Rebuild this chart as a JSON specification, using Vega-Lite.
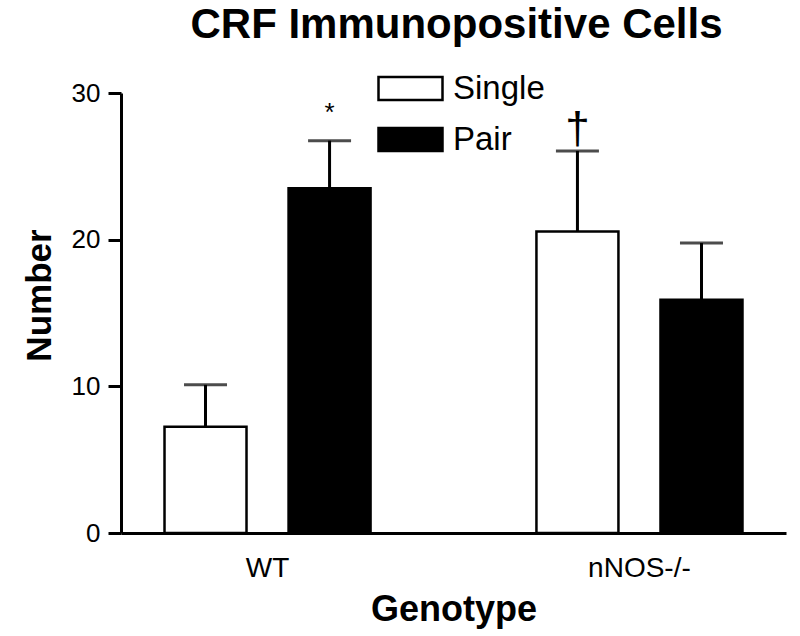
{
  "$schema": "https://vega.github.io/schema/vega-lite/v6.json",
  "autosize": "none",
  "width": 665,
  "height": 440,
  "padding": {"left": 121, "top": 93, "right": 14, "bottom": 103},
  "background": "white",
  "config": {
    "font": "Liberation Sans",
    "view": {"stroke": null},
    "axis": {"grid": false, "domainColor": "black", "domainWidth": 3, "tickColor": "black", "tickWidth": 3, "labelColor": "black", "titleColor": "black", "labelFont": "Liberation Sans", "titleFont": "Liberation Sans"}
  },
  "title": {"text": "CRF Immunopositive Cells", "fontSize": 42, "fontWeight": "bold", "font": "Liberation Sans", "color": "black", "anchor": "middle", "baseline": "alphabetic", "offset": -25, "dx": 3},
  "data": {
    "values": [
      {"Genotype": "WT", "Group": "Single", "Number": 7.25, "upper": 10.1, "sig": ""},
      {"Genotype": "WT", "Group": "Pair", "Number": 23.5, "upper": 26.75, "sig": "*"},
      {"Genotype": "nNOS-/-", "Group": "Single", "Number": 20.55, "upper": 26.05, "sig": "†"},
      {"Genotype": "nNOS-/-", "Group": "Pair", "Number": 15.9, "upper": 19.77, "sig": ""}
    ]
  },
  "encoding": {
    "x": {"field": "Genotype", "type": "nominal", "sort": ["WT", "nNOS-/-"],
      "scale": {"paddingInner": 0.446, "paddingOuter": 0.117},
      "axis": {"title": "Genotype", "labelAngle": 0, "ticks": false, "tickSize": 0, "labelFontSize": 28, "labelBaseline": "alphabetic", "labelPadding": 43, "titleFontSize": 36, "titleFontWeight": "bold", "titleBaseline": "alphabetic", "titleY": 87}},
    "xOffset": {"field": "Group", "type": "nominal", "sort": ["Single", "Pair"], "scale": {"domain": ["Single", "Pair"], "paddingInner": 0.339, "paddingOuter": 0}}
  },
  "layer": [
    {
      "mark": {"type": "rule", "color": "black", "strokeWidth": 3},
      "encoding": {
        "y": {"field": "Number", "type": "quantitative"},
        "y2": {"field": "upper"}
      }
    },
    {
      "mark": {"type": "tick", "color": "black", "thickness": 3, "size": 43, "orient": "horizontal"},
      "encoding": {
        "y": {"field": "upper", "type": "quantitative"}
      }
    },
    {
      "mark": {"type": "bar", "stroke": "black", "strokeWidth": 2.5},
      "encoding": {
        "y": {"field": "Number", "type": "quantitative",
          "scale": {"domain": [0, 30], "nice": false},
          "axis": {"title": "Number", "values": [0, 10, 20, 30], "tickSize": 13, "labelPadding": 8, "labelFontSize": 26, "titleFontSize": 35, "titleFontWeight": "bold", "titleX": -71, "titleY": 202, "titleAlign": "center", "titleBaseline": "alphabetic"}},
        "fill": {"field": "Group", "type": "nominal", "sort": ["Single", "Pair"],
          "scale": {"domain": ["Single", "Pair"], "range": ["white", "black"]},
          "legend": {"title": null, "orient": "none", "legendX": 256, "legendY": -38, "direction": "vertical",
            "symbolType": "M-1,-0.36L1,-0.36L1,0.36L-1,0.36Z", "symbolSize": 4096, "symbolStrokeColor": "black", "symbolStrokeWidth": 2.5,
            "labelFontSize": 33, "labelFont": "Liberation Sans", "labelColor": "black", "labelOffset": 9, "rowPadding": -1, "padding": 0}}
      }
    },
    {
      "transform": [{"filter": "datum.sig == '*'"}],
      "mark": {"type": "text", "fontSize": 26, "baseline": "alphabetic", "dy": -20, "color": "black"},
      "encoding": {
        "y": {"field": "upper", "type": "quantitative"},
        "text": {"field": "sig"}
      }
    },
    {
      "transform": [{"filter": "datum.sig == '†'"}],
      "mark": {"type": "text", "fontSize": 44, "baseline": "alphabetic", "dy": -8, "color": "black"},
      "encoding": {
        "y": {"field": "upper", "type": "quantitative"},
        "text": {"field": "sig"}
      }
    }
  ]
}
